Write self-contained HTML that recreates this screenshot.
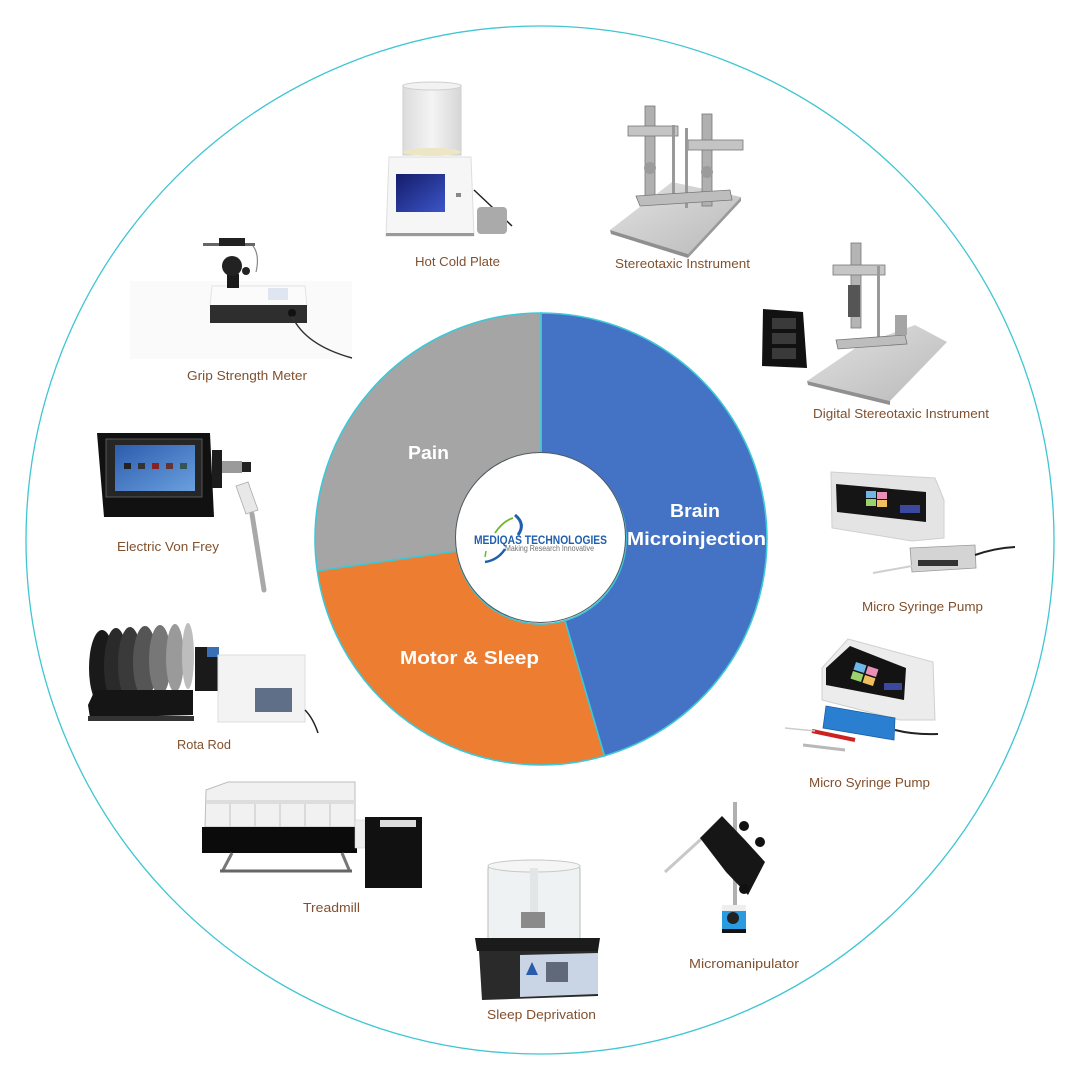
<!DOCTYPE html>
<html><head><meta charset="utf-8"><style>
html,body{margin:0;padding:0;background:#fff;}
svg{display:block;}
.lbl{font-family:"Liberation Sans",sans-serif;font-size:13px;fill:#81502e;}
.seg{font-family:"Liberation Sans",sans-serif;font-weight:bold;fill:#fff;}
</style></head><body>
<svg width="1080" height="1080" viewBox="0 0 1080 1080" xmlns="http://www.w3.org/2000/svg">
<defs>
<linearGradient id="scr" x1="0" y1="0" x2="1" y2="1"><stop offset="0" stop-color="#141c6a"/><stop offset="1" stop-color="#3c55c8"/></linearGradient>
<linearGradient id="vf" x1="0" y1="0" x2="1" y2="1"><stop offset="0" stop-color="#2c5cae"/><stop offset="1" stop-color="#6aa0de"/></linearGradient>
<linearGradient id="plate" x1="0" y1="0" x2="1" y2="1"><stop offset="0" stop-color="#e2e2e2"/><stop offset="1" stop-color="#b9b9b9"/></linearGradient>
<linearGradient id="cyl" x1="0" y1="0" x2="1" y2="0"><stop offset="0" stop-color="#dcdcdc"/><stop offset="0.5" stop-color="#f4f4f4"/><stop offset="1" stop-color="#d6d6d6"/></linearGradient>
</defs>
<rect width="1080" height="1080" fill="#fff"/>
<!-- outer ring -->
<circle cx="540" cy="540" r="514" fill="none" stroke="#3fc6d2" stroke-width="1.3"/>

<!-- Donut -->
<path d="M541,313 A226,226 0 0 1 604.4,755.9 L564.9,620.6 A85,85 0 0 0 541,454 Z" fill="#4472c4" stroke="#3cc8d8" stroke-width="1.6"/>
<path d="M604.4,755.9 A226,226 0 0 1 317.3,570.8 L456.8,551 A85,85 0 0 0 564.9,620.6 Z" fill="#ed7d31" stroke="#3cc8d8" stroke-width="1.6"/>
<path d="M317.3,570.8 A226,226 0 0 1 541,313 L541,454 A85,85 0 0 0 456.8,551 Z" fill="#a5a5a5" stroke="#3cc8d8" stroke-width="1.6"/>
<circle cx="540.5" cy="537.5" r="85" fill="#fff" stroke="#505a60" stroke-width="1"/>

<text class="seg" x="408" y="459" font-size="18" textLength="41" lengthAdjust="spacingAndGlyphs">Pain</text>
<text class="seg" x="670" y="517" font-size="18" textLength="50" lengthAdjust="spacingAndGlyphs">Brain</text>
<text class="seg" x="627" y="545" font-size="18" textLength="139" lengthAdjust="spacingAndGlyphs">Microinjection</text>
<text class="seg" x="400" y="664" font-size="18" textLength="139" lengthAdjust="spacingAndGlyphs">Motor &amp; Sleep</text>

<!-- Logo -->
<path d="M515,515 Q526,524 518,535" fill="none" stroke="#1f5fae" stroke-width="3"/>
<path d="M495,533 Q503,521 513,518" fill="none" stroke="#6bb82a" stroke-width="1.8"/>
<path d="M485,562 Q498,560 505,549" fill="none" stroke="#1f5fae" stroke-width="2.5"/>
<path d="M486,551 L485,557" fill="none" stroke="#6bb82a" stroke-width="1.5"/>
<text x="474" y="544" font-family="Liberation Sans,sans-serif" font-weight="bold" font-size="12" fill="#1f5fae" textLength="133" lengthAdjust="spacingAndGlyphs">MEDIQAS TECHNOLOGIES</text>
<text x="505" y="551" font-family="Liberation Sans,sans-serif" font-size="8" fill="#707070" textLength="89" lengthAdjust="spacingAndGlyphs">Making Research Innovative</text>

<!-- Hot Cold Plate -->
<rect x="403" y="85" width="58" height="70" fill="url(#cyl)" stroke="#cfcfcf"/>
<ellipse cx="432" cy="86" rx="29" ry="4" fill="#f2f2f2" stroke="#cfcfcf"/>
<ellipse cx="432" cy="152" rx="29" ry="4" fill="#ece6c4"/>
<path d="M389,157 L471,157 L474,236 L386,236 Z" fill="#f6f6f6" stroke="#dedede"/>
<rect x="396" y="174" width="49" height="38" fill="url(#scr)"/>
<rect x="386" y="233" width="88" height="3" fill="#9a9a9a"/>
<rect x="456" y="193" width="5" height="4" fill="#888"/>
<path d="M474,190 Q490,205 512,226" fill="none" stroke="#222" stroke-width="1.5"/>
<rect x="477" y="207" width="30" height="27" rx="4" fill="#aaaaaa"/>
<text class="lbl" x="415" y="266" textLength="85" lengthAdjust="spacingAndGlyphs">Hot Cold Plate</text>

<!-- Grip Strength Meter -->
<rect x="130" y="281" width="222" height="78" fill="#fafafa"/>
<path d="M212,286 L305,286 L307,306 L210,306 Z" fill="#fbfbfb" stroke="#e2e2e2"/>
<rect x="210" y="305" width="97" height="18" fill="#2e2e2e"/>
<rect x="268" y="288" width="20" height="12" fill="#dfe6f2"/>
<circle cx="292" cy="313" r="4" fill="#111"/>
<rect x="227" y="274" width="12" height="14" fill="#1a1a1a"/>
<circle cx="232" cy="266" r="10" fill="#222"/>
<circle cx="246" cy="271" r="4" fill="#222"/>
<rect x="203" y="243" width="52" height="3" fill="#666"/>
<rect x="219" y="238" width="26" height="8" fill="#222"/>
<path d="M253,246 Q260,255 256,272" fill="none" stroke="#888" stroke-width="1.2"/>
<path d="M292,316 Q305,345 352,358" fill="none" stroke="#333" stroke-width="1.5"/>
<text class="lbl" x="187" y="380" textLength="120" lengthAdjust="spacingAndGlyphs">Grip Strength Meter</text>

<!-- Stereotaxic Instrument -->
<path d="M610,230 L688,254 L741,197 L672,182 Z" fill="url(#plate)"/>
<path d="M610,230 L688,254 L688,258 L611,234 Z" fill="#8f8f8f"/>
<path d="M688,254 L741,197 L741,201 L688,258 Z" fill="#9a9a9a"/>
<rect x="645" y="106" width="10" height="90" fill="#b0b0b0" stroke="#777" stroke-width="0.8"/>
<rect x="628" y="126" width="50" height="10" fill="#c4c4c4" stroke="#777" stroke-width="0.8"/>
<rect x="702" y="114" width="10" height="92" fill="#b0b0b0" stroke="#777" stroke-width="0.8"/>
<rect x="688" y="140" width="55" height="10" fill="#c4c4c4" stroke="#777" stroke-width="0.8"/>
<rect x="672" y="125" width="3" height="78" fill="#999"/>
<rect x="685" y="128" width="3" height="80" fill="#999"/>
<path d="M636,196 L730,190 L732,200 L640,206 Z" fill="#bdbdbd" stroke="#777" stroke-width="0.8"/>
<circle cx="650" cy="168" r="6" fill="#9b9b9b"/>
<circle cx="707" cy="172" r="6" fill="#9b9b9b"/>
<text class="lbl" x="615" y="268" textLength="135" lengthAdjust="spacingAndGlyphs">Stereotaxic Instrument</text>

<!-- Digital Stereotaxic Instrument -->
<path d="M763,309 L803,312 L807,368 L762,366 Z" fill="#111"/>
<rect x="772" y="318" width="24" height="11" fill="#3a3a3a"/>
<rect x="772" y="333" width="24" height="11" fill="#3a3a3a"/>
<rect x="772" y="348" width="24" height="11" fill="#3a3a3a"/>
<path d="M807,381 L890,401 L947,342 L915,325 L860,345 Z" fill="url(#plate)"/>
<path d="M807,381 L890,401 L890,405 L808,385 Z" fill="#909090"/>
<rect x="851" y="243" width="10" height="85" fill="#b4b4b4" stroke="#777" stroke-width="0.8"/>
<rect x="833" y="265" width="52" height="10" fill="#c6c6c6" stroke="#777" stroke-width="0.8"/>
<rect x="877" y="266" width="3" height="80" fill="#999"/>
<rect x="848" y="285" width="12" height="32" fill="#555"/>
<path d="M836,340 L905,335 L907,344 L838,349 Z" fill="#bdbdbd" stroke="#777" stroke-width="0.8"/>
<rect x="895" y="315" width="12" height="20" fill="#a5a5a5"/>
<text class="lbl" x="813" y="418" textLength="176" lengthAdjust="spacingAndGlyphs">Digital Stereotaxic Instrument</text>

<!-- Electric Von Frey -->
<path d="M97,433 L210,433 L214,517 L104,517 Z" fill="#111"/>
<rect x="106" y="439" width="96" height="58" fill="#262626" stroke="#666" stroke-width="0.8"/>
<rect x="115" y="445" width="80" height="46" fill="url(#vf)"/>
<rect x="124" y="463" width="7" height="6" fill="#222"/><rect x="138" y="463" width="7" height="6" fill="#333"/><rect x="152" y="463" width="7" height="6" fill="#822"/><rect x="166" y="463" width="7" height="6" fill="#633"/><rect x="180" y="463" width="7" height="6" fill="#355"/>
<rect x="212" y="450" width="10" height="38" fill="#1c1c1c"/>
<rect x="222" y="461" width="20" height="12" fill="#9a9a9a"/>
<rect x="242" y="462" width="9" height="10" fill="#222"/>
<path d="M236,486 L248,482 L258,510 L246,514 Z" fill="#e8e8e8" stroke="#aaa" stroke-width="0.8"/>
<path d="M252,514 L264,590" stroke="#a8a8a8" stroke-width="5" stroke-linecap="round"/>
<text class="lbl" x="117" y="551" textLength="102" lengthAdjust="spacingAndGlyphs">Electric Von Frey</text>

<!-- Rota Rod -->
<ellipse cx="102" cy="668" rx="13" ry="38" fill="#1a1a1a"/>
<ellipse cx="116" cy="666" rx="12" ry="38" fill="#2a2a2a"/>
<ellipse cx="130" cy="664" rx="12" ry="37" fill="#3a3a3a"/>
<ellipse cx="145" cy="662" rx="12" ry="36" fill="#555"/>
<ellipse cx="160" cy="660" rx="11" ry="35" fill="#777"/>
<ellipse cx="175" cy="658" rx="9" ry="34" fill="#9a9a9a"/>
<ellipse cx="188" cy="656" rx="6" ry="33" fill="#bdbdbd"/>
<path d="M95,690 L193,690 L193,715 L90,718 L88,705 Z" fill="#151515"/>
<rect x="88" y="716" width="106" height="5" fill="#333"/>
<rect x="195" y="647" width="24" height="44" fill="#1a1a1a"/>
<rect x="207" y="647" width="12" height="10" fill="#3a6fb5"/>
<rect x="218" y="655" width="87" height="67" fill="#f3f3f3" stroke="#dcdcdc"/>
<rect x="255" y="688" width="37" height="24" fill="#5f6f88"/>
<path d="M305,710 Q313,718 318,733" fill="none" stroke="#222" stroke-width="1.5"/>
<text class="lbl" x="177" y="749" textLength="54" lengthAdjust="spacingAndGlyphs">Rota Rod</text>

<!-- Micro Syringe Pump 1 -->
<path d="M831,472 L935,478 L944,500 L944,538 L912,541 L832,528 Z" fill="#e4e4e4" stroke="#cfcfcf"/>
<path d="M836,484 L926,492 L926,522 L837,512 Z" fill="#151515"/>
<rect x="866" y="491" width="10" height="7" fill="#6fb7e8"/><rect x="877" y="492" width="10" height="7" fill="#e98fb8"/><rect x="866" y="499" width="10" height="7" fill="#9ad36b"/><rect x="877" y="500" width="10" height="7" fill="#f0c060"/>
<rect x="900" y="505" width="20" height="8" fill="#3a48a0"/>
<path d="M910,548 L975,545 L976,568 L912,572 Z" fill="#d4d4d4" stroke="#999" stroke-width="0.8"/>
<rect x="918" y="560" width="40" height="6" fill="#333"/>
<path d="M975,555 Q995,548 1015,547" fill="none" stroke="#222" stroke-width="2"/>
<path d="M873,573 L912,566" stroke="#cfcfcf" stroke-width="2"/>
<text class="lbl" x="862" y="611" textLength="121" lengthAdjust="spacingAndGlyphs">Micro Syringe Pump</text>

<!-- Micro Syringe Pump 2 -->
<path d="M848,639 L933,662 L935,720 L900,720 L822,700 L822,668 Z" fill="#ececec" stroke="#d0d0d0"/>
<path d="M826,668 L850,646 L906,668 L904,700 L826,685 Z" fill="#131313"/>
<rect x="856" y="662" width="11" height="8" fill="#6fb7e8" transform="rotate(18 856 662)"/><rect x="868" y="666" width="11" height="8" fill="#e98fb8" transform="rotate(18 868 666)"/><rect x="853" y="671" width="11" height="8" fill="#9ad36b" transform="rotate(18 853 671)"/><rect x="865" y="675" width="11" height="8" fill="#f0c060" transform="rotate(18 865 675)"/>
<rect x="884" y="683" width="18" height="7" fill="#3a48a0"/>
<path d="M826,706 L895,718 L894,740 L823,728 Z" fill="#2b7fd0" stroke="#1a5fa8" stroke-width="0.8"/>
<path d="M895,730 Q915,735 938,734" fill="none" stroke="#222" stroke-width="2"/>
<path d="M812,731 L855,740" stroke="#c22" stroke-width="4"/>
<path d="M785,728 L815,731" stroke="#ccc" stroke-width="1.5"/>
<path d="M803,745 L845,750" stroke="#b8b8b8" stroke-width="3"/>
<text class="lbl" x="809" y="787" textLength="121" lengthAdjust="spacingAndGlyphs">Micro Syringe Pump</text>

<!-- Treadmill -->
<path d="M206,790 L228,782 L355,782 L355,827 L205,827 Z" fill="#f1f1f1" stroke="#bdbdbd"/>
<g stroke="#c4c4c4" stroke-width="1"><line x1="230" y1="800" x2="230" y2="827"/><line x1="255" y1="800" x2="255" y2="827"/><line x1="280" y1="800" x2="280" y2="827"/><line x1="305" y1="800" x2="305" y2="827"/><line x1="330" y1="800" x2="330" y2="827"/></g>
<rect x="206" y="800" width="150" height="4" fill="#ddd"/>
<rect x="202" y="827" width="155" height="26" fill="#0b0b0b"/>
<path d="M232,853 L222,872 M342,853 L350,872" stroke="#777" stroke-width="3"/>
<line x1="220" y1="871" x2="352" y2="871" stroke="#666" stroke-width="3"/>
<rect x="355" y="820" width="10" height="28" fill="#eee" stroke="#ccc" stroke-width="0.5"/>
<rect x="365" y="817" width="57" height="71" fill="#111"/>
<rect x="380" y="820" width="36" height="7" fill="#ddd"/>
<text class="lbl" x="303" y="912" textLength="57" lengthAdjust="spacingAndGlyphs">Treadmill</text>

<!-- Sleep Deprivation -->
<path d="M488,940 L488,868 Q534,852 580,868 L580,940 Z" fill="#eff2f2" stroke="#bbbbbb"/>
<ellipse cx="534" cy="866" rx="46" ry="6" fill="#f5f5f5" stroke="#c8c8c8"/>
<rect x="521" y="912" width="24" height="16" fill="#8a8a8a"/>
<rect x="530" y="868" width="8" height="44" fill="#e2e6e6"/>
<path d="M475,938 L600,938 L598,951 L477,951 Z" fill="#1b1b1b"/>
<path d="M479,951 L598,951 L598,996 L482,1000 Z" fill="#2a2a2a"/>
<path d="M520,955 L598,953 L598,994 L520,997 Z" fill="#c9d5e4"/>
<rect x="546" y="962" width="22" height="20" fill="#60687a"/>
<path d="M526,975 L532,962 L538,975 Z" fill="#2a5aaa"/>
<text class="lbl" x="487" y="1019" textLength="109" lengthAdjust="spacingAndGlyphs">Sleep Deprivation</text>

<!-- Micromanipulator -->
<line x1="735" y1="802" x2="735" y2="907" stroke="#b0b0b0" stroke-width="4"/>
<path d="M665,872 L722,820" stroke="#c8c8c8" stroke-width="3"/>
<path d="M700,838 L722,816 L745,840 L765,862 L748,895 L726,872 Z" fill="#161616"/>
<circle cx="744" cy="826" r="5" fill="#111"/>
<circle cx="760" cy="842" r="5" fill="#111"/>
<circle cx="744" cy="889" r="5" fill="#111"/>
<rect x="722" y="905" width="24" height="28" fill="#2a9be0"/>
<rect x="722" y="905" width="24" height="6" fill="#eee"/>
<circle cx="733" cy="918" r="6" fill="#222"/>
<rect x="722" y="929" width="24" height="4" fill="#111"/>
<text class="lbl" x="689" y="968" textLength="110" lengthAdjust="spacingAndGlyphs">Micromanipulator</text>
</svg>
</body></html>
